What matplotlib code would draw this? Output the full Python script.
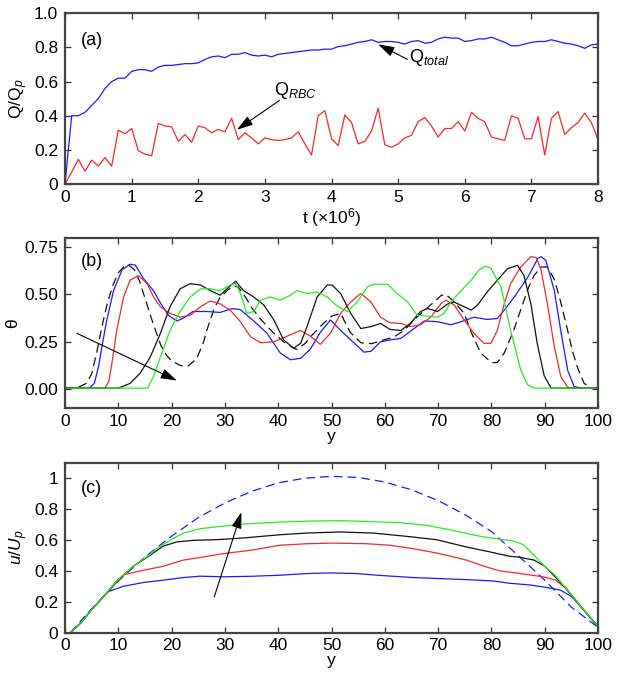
import matplotlib
matplotlib.use("Agg")
import matplotlib.pyplot as plt
import numpy as np

plt.rcParams['font.family'] = ['Liberation Sans', 'DejaVu Sans']
plt.rcParams['mathtext.fontset'] = 'custom'
plt.rcParams['mathtext.rm'] = 'Liberation Sans'
plt.rcParams['mathtext.it'] = 'Liberation Sans:italic'
plt.rcParams['font.size'] = 12

# ---------------- Panel (a) data ----------------
t_vals = [i / 10 for i in range(81)]
q_total = [0.0, 0.40, 0.40, 0.42, 0.46, 0.50, 0.56, 0.60, 0.62, 0.62,
           0.66, 0.67, 0.67, 0.66, 0.685, 0.695, 0.695, 0.70, 0.705, 0.705,
           0.71, 0.73, 0.745, 0.75, 0.74, 0.76, 0.76, 0.77, 0.755, 0.75,
           0.755, 0.745, 0.76, 0.765, 0.77, 0.775, 0.78, 0.785, 0.785, 0.79,
           0.79, 0.805, 0.81, 0.82, 0.83, 0.835, 0.845, 0.83, 0.835, 0.835,
           0.83, 0.82, 0.835, 0.84, 0.825, 0.83, 0.85, 0.86, 0.855, 0.855,
           0.835, 0.84, 0.85, 0.85, 0.86, 0.845, 0.83, 0.81, 0.81, 0.82,
           0.83, 0.835, 0.835, 0.845, 0.835, 0.825, 0.82, 0.81, 0.795, 0.815,
           0.82]
q_rbc = [0.0, 0.07, 0.145, 0.075, 0.14, 0.105, 0.155, 0.105, 0.315, 0.295,
         0.325, 0.195, 0.175, 0.165, 0.355, 0.34, 0.335, 0.25, 0.29, 0.245,
         0.34, 0.33, 0.30, 0.32, 0.305, 0.385, 0.26, 0.30, 0.27, 0.235,
         0.27, 0.26, 0.255, 0.26, 0.27, 0.305, 0.235, 0.17, 0.40, 0.43,
         0.265, 0.225, 0.405, 0.36, 0.235, 0.25, 0.31, 0.445, 0.23, 0.215,
         0.235, 0.27, 0.285, 0.365, 0.39, 0.34, 0.275, 0.325, 0.325, 0.365,
         0.31, 0.42, 0.385, 0.365, 0.275, 0.265, 0.255, 0.40, 0.385, 0.265,
         0.265, 0.395, 0.17, 0.385, 0.425, 0.29, 0.33, 0.36, 0.415, 0.36,
         0.26]

# ---------------- Panel (b) data ----------------
b_dash_x = [0, 2.5, 4, 5, 6, 7, 8, 9, 10, 11, 12, 13, 14, 15, 16.6, 18, 19, 20, 21.6, 23,
            24.7, 26, 26.6, 27.9, 29, 30.4, 31.6, 32.5, 34, 35, 37, 39, 41, 43, 43.5, 45,
            46.5, 48.6, 50, 51.7, 53.5, 55.5, 57.5, 59.2, 61.7, 63.6, 66, 68, 70.6, 71.5,
            73, 74.9, 76.2, 78, 80, 81.1, 82.4, 84.3, 85.5, 87, 88, 89.3, 90.5, 91.8, 93,
            94.3, 95.2, 96.2, 97.4, 98.7, 100]
b_dash_v = [0.005, 0.01, 0.03, 0.08, 0.2, 0.34, 0.46, 0.55, 0.615, 0.645, 0.655, 0.63, 0.57,
            0.48, 0.34, 0.23, 0.18, 0.15, 0.125, 0.12, 0.16, 0.25, 0.31, 0.42, 0.48, 0.52,
            0.545, 0.54, 0.48, 0.43, 0.36, 0.30, 0.25, 0.215, 0.21, 0.24, 0.29, 0.35, 0.385,
            0.40, 0.30, 0.245, 0.24, 0.255, 0.275, 0.31, 0.38, 0.43, 0.495, 0.50, 0.46, 0.40,
            0.30, 0.19, 0.14, 0.14, 0.19, 0.32, 0.42, 0.54, 0.60, 0.645, 0.645, 0.58, 0.46,
            0.31, 0.20, 0.11, 0.03, 0.008, 0.005]
b_blue_x = [0, 4.5, 5.5, 6.3, 6.9, 7.8, 9.1, 10.7, 12.2, 13.2, 14.7, 16.6, 17.9, 19.4, 21,
            22.2, 24, 26.6, 29.1, 31.3, 32.9, 35.4, 37.9, 40.4, 42.3, 44.2, 46, 47.9, 49.8,
            51.7, 53.6, 56.1, 57.4, 59.2, 61, 63, 65.5, 67.4, 69.9, 72.4, 74.3, 76.7, 79.2,
            81.1, 82.4, 84.3, 86.8, 88.7, 89.3, 90.2, 91.8, 93, 94.3, 95.5, 96.8, 100]
b_blue_v = [0.005, 0.005, 0.03, 0.12, 0.22, 0.36, 0.52, 0.63, 0.66, 0.655, 0.585, 0.52, 0.455,
            0.39, 0.36, 0.375, 0.41, 0.41, 0.405, 0.425, 0.42, 0.36, 0.295, 0.19, 0.155,
            0.163, 0.21, 0.30, 0.365, 0.31, 0.26, 0.195, 0.20, 0.25, 0.26, 0.268, 0.32, 0.36,
            0.356, 0.34, 0.356, 0.38, 0.368, 0.373, 0.417, 0.487, 0.59, 0.69, 0.70, 0.68,
            0.52, 0.31, 0.10, 0.014, 0.005, 0.005]
b_red_x = [0, 7.5, 8.2, 8.8, 9.7, 11, 12.2, 13.8, 15.4, 16.6, 17.9, 19.7, 21.6, 23.5, 25.4,
           27.3, 29.1, 31, 32.9, 34.8, 36.7, 39.2, 41.7, 44.2, 46, 47.9, 49.8, 51.7, 53.6,
           55.5, 57.4, 59.2, 61, 63, 64.8, 66.7, 68.6, 70.5, 71.4, 73, 74.9, 76.7, 78.6, 79.9,
           81.1, 82.4, 83.6, 85.5, 87.4, 88.4, 89.3, 90.5, 91.8, 93, 94.3, 95.5, 100]
b_red_v = [0.005, 0.005, 0.04, 0.137, 0.31, 0.487, 0.575, 0.60, 0.557, 0.487, 0.435, 0.40,
           0.38, 0.39, 0.435, 0.466, 0.45, 0.417, 0.356, 0.277, 0.245, 0.25, 0.28, 0.31,
           0.28, 0.237, 0.295, 0.40, 0.46, 0.505, 0.46, 0.38, 0.35, 0.347, 0.33, 0.34, 0.38,
           0.45, 0.47, 0.445, 0.365, 0.295, 0.242, 0.242, 0.31, 0.45, 0.557, 0.645, 0.70,
           0.695, 0.63, 0.45, 0.224, 0.067, 0.01, 0.005, 0.005]
b_black_x = [0, 10, 12.2, 14.1, 16, 17.9, 19.7, 21.6, 23.5, 25.4, 27.3, 29.1, 30.4, 32, 33.5,
             35.4, 37.3, 39.2, 41, 42.9, 44.2, 45.4, 47.3, 49.2, 50.1, 51.7, 53.6, 55.5,
             57.4, 59.2, 61, 63, 64.8, 66.7, 68, 69.9, 71.8, 73, 74.9, 76.2, 77.4, 79.2,
             81.1, 83, 84.9, 86.1, 87.4, 88.6, 89.9, 91.2, 100]
b_black_v = [0.005, 0.005, 0.03, 0.084, 0.17, 0.295, 0.435, 0.53, 0.557, 0.55, 0.52, 0.496,
             0.53, 0.57, 0.52, 0.487, 0.444, 0.365, 0.26, 0.216, 0.242, 0.33, 0.487, 0.55,
             0.55, 0.505, 0.40, 0.32, 0.33, 0.347, 0.315, 0.31, 0.347, 0.41, 0.426, 0.41,
             0.45, 0.46, 0.435, 0.417, 0.444, 0.513, 0.575, 0.636, 0.654, 0.60, 0.45, 0.24,
             0.07, 0.005, 0.005]
b_green_x = [0, 15.5, 16.6, 17.9, 19.7, 21.6, 23.5, 25.4, 27.3, 29.1, 31, 32, 32.9, 34.1,
             35.4, 36.7, 38.5, 40.4, 42.3, 43.5, 45.4, 47.3, 49.2, 51, 53, 54.8, 56.7, 58,
             60.5, 62.3, 64.3, 66.1, 68, 69.9, 71.1, 72.4, 74.3, 76.2, 77.7, 78.9, 79.9, 81.8,
             83.6, 85.5, 86.8, 88, 100]
b_green_v = [0.005, 0.005, 0.067, 0.17, 0.31, 0.41, 0.487, 0.53, 0.53, 0.52, 0.55, 0.56,
             0.505, 0.40, 0.41, 0.47, 0.487, 0.47, 0.496, 0.52, 0.505, 0.513, 0.487, 0.44,
             0.41, 0.46, 0.54, 0.554, 0.554, 0.505, 0.46, 0.39, 0.385, 0.38, 0.40, 0.46,
             0.52, 0.575, 0.63, 0.65, 0.638, 0.54, 0.31, 0.10, 0.023, 0.005, 0.005]

# ---------------- Panel (c) data ----------------
c_dash_x = [1, 5, 10, 15, 20, 25, 30, 35, 40, 45, 50, 55, 60, 65, 70, 75, 80, 85, 90, 95, 100]
c_dash_v = [0, 0.155, 0.335, 0.49, 0.625, 0.745, 0.84, 0.915, 0.97, 1.0, 1.012, 1.005,
            0.975, 0.925, 0.855, 0.765, 0.655, 0.5, 0.34, 0.165, 0.035]
c_blue_x = [1, 3, 5, 7, 8, 10.9, 14.7, 18.4, 22.2, 25.3, 29.7, 34.7, 40.3, 45.3, 49.7, 54.7,
            58.6, 65.3, 70.3, 75.3, 80.3, 83.4, 87, 90, 93, 95, 97, 100]
c_blue_v = [0, 0.065, 0.15, 0.225, 0.265, 0.30, 0.325, 0.34, 0.357, 0.366, 0.362, 0.365,
            0.372, 0.383, 0.387, 0.383, 0.372, 0.357, 0.35, 0.344, 0.335, 0.32, 0.31, 0.295,
            0.275, 0.235, 0.16, 0.04]
c_red_x = [1, 3, 5, 7, 9, 11, 14.7, 18.4, 22.2, 25.9, 29.7, 34.7, 40.3, 45.3, 50.3, 56.6, 61,
           65.3, 70.3, 75.3, 79, 81.6, 85, 90, 92, 94, 95, 97, 100]
c_red_v = [0, 0.065, 0.15, 0.225, 0.3, 0.375, 0.404, 0.43, 0.47, 0.49, 0.512, 0.533, 0.566,
           0.576, 0.58, 0.576, 0.566, 0.544, 0.512, 0.47, 0.426, 0.40, 0.385, 0.36, 0.34,
           0.29, 0.245, 0.16, 0.04]
c_black_x = [1, 3, 5, 7, 9.7, 12.8, 15.9, 18.4, 20.9, 24, 28.4, 33.4, 40.3, 45.3, 51.6, 57.8,
             64, 69.7, 75.3, 79.7, 83.4, 85, 88, 90, 92, 95, 97, 100]
c_black_v = [0, 0.065, 0.15, 0.225, 0.335, 0.43, 0.50, 0.56, 0.587, 0.598, 0.602, 0.613,
             0.634, 0.645, 0.652, 0.645, 0.624, 0.602, 0.555, 0.523, 0.495, 0.49, 0.47, 0.43,
             0.36, 0.245, 0.16, 0.04]
c_green_x = [1, 3, 5, 7, 9.7, 12.8, 15.9, 17.2, 19.7, 22.2, 25.3, 29.7, 34.1, 40.3, 46.6,
             51.6, 56.6, 62.8, 67.8, 72.8, 77.8, 82.2, 84, 86, 88, 90, 92, 95, 97, 100]
c_green_v = [0, 0.065, 0.15, 0.225, 0.335, 0.43, 0.505, 0.544, 0.598, 0.645, 0.673, 0.69,
             0.705, 0.716, 0.723, 0.725, 0.72, 0.712, 0.695, 0.662, 0.624, 0.602, 0.595,
             0.57, 0.50, 0.43, 0.37, 0.245, 0.16, 0.04]

BLUE = '#1a1aff'
RED = '#ee2a2a'
GREEN = '#22ee22'
BLACK = '#111111'
LW = 0.9
FS = 12.5

fig = plt.figure(figsize=(6.18, 6.83), dpi=100)
axA = fig.add_axes([0.1052, 0.7306, 0.8625, 0.2499])
axB = fig.add_axes([0.1052, 0.4026, 0.8625, 0.2494])
axC = fig.add_axes([0.1052, 0.0736, 0.8625, 0.2489])


def style(ax):
    for s in ax.spines.values():
        s.set_color('#444444')
        s.set_linewidth(1.6)
    ax.tick_params(direction='in', length=4, width=0.9, color='#333333',
                   top=True, right=True, labelsize=FS, pad=4)
    ax.tick_params(axis='y', pad=5)


ap = dict(arrowstyle='-|>,head_length=0.55,head_width=0.17', color='k', lw=0.8,
          mutation_scale=18, shrinkA=0, shrinkB=0)

# Panel (a)
axA.plot(t_vals, q_total, color=BLUE, lw=LW)
axA.plot(t_vals, q_rbc, color=RED, lw=LW)
axA.set_xlim(0, 8)
axA.set_ylim(0, 1)
axA.set_xticks(range(9))
axA.set_yticks([0, 0.2, 0.4, 0.6, 0.8, 1.0])
axA.set_yticklabels(['0', '0.2', '0.4', '0.6', '0.8', '1.0'])
axA.set_xlabel('t (\u00d710$^6$)', fontsize=FS, labelpad=1)
axA.set_ylabel('Q/Q$_{p}$', fontsize=FS, labelpad=3)
style(axA)
axA.annotate('', xy=(4.70, 0.818), xytext=(5.14, 0.73), arrowprops=ap)
axA.text(5.17, 0.712, 'Q$_{total}$', fontsize=13, ha='left', va='baseline')
axA.annotate('', xy=(2.58, 0.318), xytext=(3.22, 0.49), arrowprops=ap)
axA.text(3.14, 0.52, 'Q$_{RBC}$', fontsize=13, ha='left', va='baseline')
axA.text(0.03, 0.84, '(a)', transform=axA.transAxes, fontsize=13, va='center')

# Panel (b)
axB.plot(b_dash_x, b_dash_v, color=BLACK, lw=LW, ls=(0, (7, 4)))
axB.plot(b_blue_x, b_blue_v, color=BLUE, lw=LW)
axB.plot(b_red_x, b_red_v, color=RED, lw=LW)
axB.plot(b_black_x, b_black_v, color=BLACK, lw=LW)
axB.plot(b_green_x, b_green_v, color=GREEN, lw=LW)
axB.set_xlim(0, 100)
axB.set_ylim(-0.1, 0.8)
axB.set_xticks(range(0, 101, 10))
axB.set_yticks([0, 0.25, 0.5, 0.75])
axB.set_yticklabels(['0.00', '0.25', '0.50', '0.75'])
axB.set_xlabel('y', fontsize=FS, labelpad=0)
axB.set_ylabel('\u03b8', fontsize=FS, labelpad=3)
style(axB)
axB.annotate('', xy=(21, 0.045), xytext=(2.2, 0.295), arrowprops=ap)
axB.text(0.03, 0.86, '(b)', transform=axB.transAxes, fontsize=13, va='center')

# Panel (c)
axC.plot(c_dash_x, c_dash_v, color=BLUE, lw=LW, ls=(0, (7, 4)))
axC.plot(c_blue_x, c_blue_v, color=BLUE, lw=LW)
axC.plot(c_red_x, c_red_v, color=RED, lw=LW)
axC.plot(c_black_x, c_black_v, color=BLACK, lw=LW)
axC.plot(c_green_x, c_green_v, color=GREEN, lw=LW)
axC.set_xlim(0, 100)
axC.set_ylim(0, 1.1)
axC.set_xticks(range(0, 101, 10))
axC.set_yticks([0, 0.2, 0.4, 0.6, 0.8, 1.0])
axC.set_yticklabels(['0', '0.2', '0.4', '0.6', '0.8', '1'])
axC.set_xlabel('y', fontsize=FS, labelpad=0)
axC.set_ylabel('$u/U_p$', fontsize=FS, labelpad=3)
style(axC)
axC.annotate('', xy=(33.1, 0.78), xytext=(28, 0.232), arrowprops=ap)
axC.text(0.03, 0.85, '(c)', transform=axC.transAxes, fontsize=13, va='center')

fig.savefig('out.png', dpi=100)
